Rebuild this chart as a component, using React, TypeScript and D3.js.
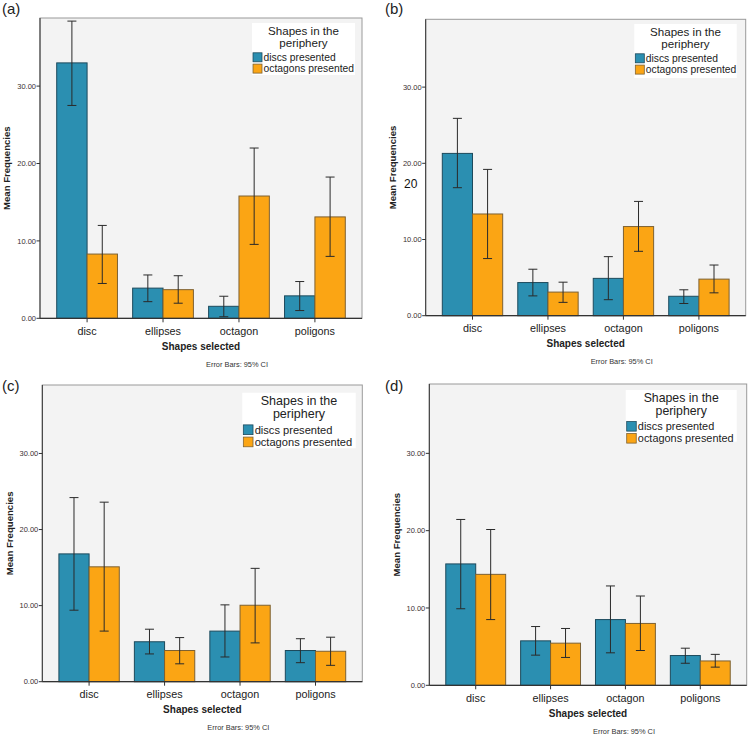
import * as d3 from 'd3';

const categories = ['disc', 'ellipses', 'octagon', 'poligons'];
const seriesNames = ['discs presented', 'octagons presented'];
const yTicks = [0, 10, 20, 30];

// panel (a)
const aDiscMean = [33.0, 3.9, 1.55, 2.9];
const aDiscLow = [27.5, 2.15, 0.2, 1.0];
const aDiscHigh = [38.4, 5.6, 2.85, 4.75];
const aOctMean = [8.3, 3.7, 15.8, 13.1];
const aOctLow = [4.5, 1.95, 9.55, 8.0];
const aOctHigh = [12.0, 5.5, 22.0, 18.25];

// panel (b)
const bDiscMean = [21.3, 4.35, 4.9, 2.55];
const bDiscLow = [16.8, 2.6, 2.1, 1.6];
const bDiscHigh = [25.9, 6.1, 7.75, 3.4];
const bOctMean = [13.35, 3.1, 11.7, 4.8];
const bOctLow = [7.5, 1.75, 8.45, 3.0];
const bOctHigh = [19.2, 4.4, 15.0, 6.65];

// panel (c)
const cDiscMean = [16.8, 5.25, 6.65, 4.1];
const cDiscLow = [9.4, 3.65, 3.25, 2.5];
const cDiscHigh = [24.2, 6.9, 10.1, 5.65];
const cOctMean = [15.1, 4.1, 10.05, 4.0];
const cOctLow = [6.65, 2.35, 5.1, 2.15];
const cOctHigh = [23.6, 5.8, 14.9, 5.85];

// panel (d)
const dDiscMean = [15.7, 5.75, 8.5, 3.85];
const dDiscLow = [9.9, 3.9, 4.2, 2.85];
const dDiscHigh = [21.45, 7.6, 12.85, 4.8];
const dOctMean = [14.35, 5.45, 8.0, 3.15];
const dOctLow = [8.5, 3.6, 4.5, 2.35];
const dOctHigh = [20.15, 7.35, 11.55, 4.0];

const BLUE = '#2b8fb1';
const ORANGE = '#fba514';
const FONT = '"Liberation Sans", Arial, sans-serif';

interface PanelCfg {
  tag: string;
  ox: number;
  oy: number;
  left: number;
  top: number;
  right: number;
  bottom: number;
  yMax: number;
  legend: { x: number; y: number; w: number; h: number; s: number };
  tagY: number;
  tagX: number;
  mean: number[][];
  low: number[][];
  high: number[][];
  stray?: boolean;
}

const panels: PanelCfg[] = [
  {
    tag: '(a)', ox: 0, oy: 0, left: 40, top: 18, right: 362, bottom: 318.3, yMax: 38.8,
    legend: { x: 252, y: 23, w: 103, h: 52, s: 1 }, tagX: 2, tagY: 14,
    mean: [aDiscMean, aOctMean], low: [aDiscLow, aOctLow], high: [aDiscHigh, aOctHigh],
  },
  {
    tag: '(b)', ox: 375, oy: 0, left: 50.7, top: 19.3, right: 370.7, bottom: 315.7, yMax: 38.9,
    legend: { x: 259.3, y: 24, w: 102.4, h: 54, s: 1.0 }, tagX: 10, tagY: 14,
    mean: [bDiscMean, bOctMean], low: [bDiscLow, bOctLow], high: [bDiscHigh, bOctHigh], stray: true,
  },
  {
    tag: '(c)', ox: 0, oy: 370, left: 42.3, top: 15, right: 362.3, bottom: 311.7, yMax: 39.0,
    legend: { x: 242.3, y: 22.7, w: 113.4, h: 55.6, s: 1.08 }, tagX: 2, tagY: 21,
    mean: [cDiscMean, cOctMean], low: [cDiscLow, cOctLow], high: [cDiscHigh, cOctHigh],
  },
  {
    tag: '(d)', ox: 375, oy: 370, left: 54.3, top: 14, right: 371.7, bottom: 315.3, yMax: 38.97,
    legend: { x: 250.7, y: 20, w: 111, h: 51.7, s: 1.06 }, tagX: 10, tagY: 21,
    mean: [dDiscMean, dOctMean], low: [dDiscLow, dOctLow], high: [dDiscHigh, dOctHigh],
  },
];

const Panel = ({ p }: { p: PanelCfg }) => {
  const x = d3
    .scaleBand()
    .domain(categories)
    .range([p.left, p.right])
    .paddingInner(0.2)
    .paddingOuter(0.22);
  const sub = d3
    .scaleBand()
    .domain(seriesNames)
    .range([0, x.bandwidth()]);
  const y = d3.scaleLinear().domain([0, p.yMax]).range([p.bottom, p.top]);
  const mid = (p.left + p.right) / 2;
  const colors = [BLUE, ORANGE];
  const strokes = ['#1d4a5c', '#7d6132'];
  const L = p.legend;

  return (
    <g transform={`translate(${p.ox},${p.oy})`} fontFamily={FONT}>
      <text x={p.tagX} y={p.tagY} fontSize={15} fill="#222">{p.tag}</text>
      <rect
        x={p.left}
        y={p.top}
        width={p.right - p.left}
        height={p.bottom - p.top}
        fill="#f3f3f3"
        stroke="#9a9a9a"
        strokeWidth={1}
      />
      {seriesNames.map((s, si) =>
        categories.map((c, ci) => {
          const bx = (x(c) ?? 0) + (sub(s) ?? 0);
          const bw = sub.bandwidth();
          const v = p.mean[si][ci];
          return (
            <rect
              key={`${s}-${c}`}
              x={bx}
              y={y(v)}
              width={bw}
              height={y(0) - y(v)}
              fill={colors[si]}
              stroke={strokes[si]}
              strokeWidth={1}
            />
          );
        })
      )}
      {seriesNames.map((s, si) =>
        categories.map((c, ci) => {
          const bx = (x(c) ?? 0) + (sub(s) ?? 0);
          const cx = bx + sub.bandwidth() / 2;
          const lo = y(p.low[si][ci]);
          const hi = y(p.high[si][ci]);
          return (
            <g key={`e-${s}-${c}`} stroke="#2a2a2a" strokeWidth={1}>
              <line x1={cx} x2={cx} y1={lo} y2={hi} />
              <line x1={cx - 4.5} x2={cx + 4.5} y1={lo} y2={lo} />
              <line x1={cx - 4.5} x2={cx + 4.5} y1={hi} y2={hi} />
            </g>
          );
        })
      )}
      {/* axes */}
      <line x1={p.left} x2={p.left} y1={p.top} y2={p.bottom} stroke="#333" strokeWidth={1} />
      <line x1={p.left} x2={p.right} y1={p.bottom} y2={p.bottom} stroke="#333" strokeWidth={1.2} />
      {yTicks.map((t) => (
        <g key={t}>
          <line x1={p.left - 3.5} x2={p.left} y1={y(t)} y2={y(t)} stroke="#333" />
          <text
            x={p.left - 4}
            y={y(t)}
            dy="0.35em"
            textAnchor="end"
            fontSize={7.5}
            fill="#3a3030"
          >
            {d3.format('.2f')(t)}
          </text>
        </g>
      ))}
      {categories.map((c) => {
        const cx = (x(c) ?? 0) + x.bandwidth() / 2;
        return (
          <g key={c}>
            <line x1={cx} x2={cx} y1={p.bottom} y2={p.bottom + 4} stroke="#333" />
            <text x={cx} y={p.bottom + 12.5} dy="0.35em" textAnchor="middle" fontSize={10.8} fill="#222">
              {c}
            </text>
          </g>
        );
      })}
      <text
        x={mid}
        y={p.bottom + 28}
        dy="0.35em"
        textAnchor="middle"
        fontSize={10}
        fontWeight="bold"
        fill="#222"
      >
        Shapes selected
      </text>
      <text
        x={mid + 36}
        y={p.bottom + 46}
        dy="0.35em"
        textAnchor="middle"
        fontSize={7.4}
        fill="#333"
      >
        Error Bars: 95% CI
      </text>
      <text
        transform={`translate(${p.left - 33},${(p.top + p.bottom) / 2}) rotate(-90)`}
        textAnchor="middle"
        dy="0.35em"
        fontSize={9.6}
        fontWeight="bold"
        fill="#222"
      >
        Mean Frequencies
      </text>
      {p.stray && (
        <text x={p.left - 21.7} y={187.5} fontSize={12} fill="#111">20</text>
      )}
      {/* legend */}
      <g>
        <rect x={L.x} y={L.y} width={L.w} height={L.h} fill="#ffffff" />
        <text x={L.x + L.w / 2} y={L.y + 7.6 * L.s} dy="0.35em" textAnchor="middle" fontSize={11.6 * L.s} fill="#222">
          Shapes in the
        </text>
        <text x={L.x + L.w / 2} y={L.y + 19.6 * L.s} dy="0.35em" textAnchor="middle" fontSize={11.6 * L.s} fill="#222">
          periphery
        </text>
        {seriesNames.map((s, i) => (
          <g key={s}>
            <rect
              x={L.x + 1}
              y={L.y + (29.8 + i * 11.3) * L.s}
              width={9 * L.s}
              height={9 * L.s}
              fill={colors[i]}
              stroke={strokes[i]}
              strokeWidth={0.8}
            />
            <text
              x={L.x + 1 + 10.5 * L.s}
              y={L.y + (34.3 + i * 11.3) * L.s}
              dy="0.35em"
              fontSize={10.3 * L.s}
              fill="#222"
            >
              {s}
            </text>
          </g>
        ))}
      </g>
    </g>
  );
};

export default function App() {
  return (
    <svg
      width={750}
      height={737}
      style={{ position: 'absolute', left: 0, top: 0, background: '#fff' }}
    >
      <rect width={750} height={737} fill="#fff" />
      {panels.map((p) => (
        <Panel key={p.tag} p={p} />
      ))}
    </svg>
  );
}
